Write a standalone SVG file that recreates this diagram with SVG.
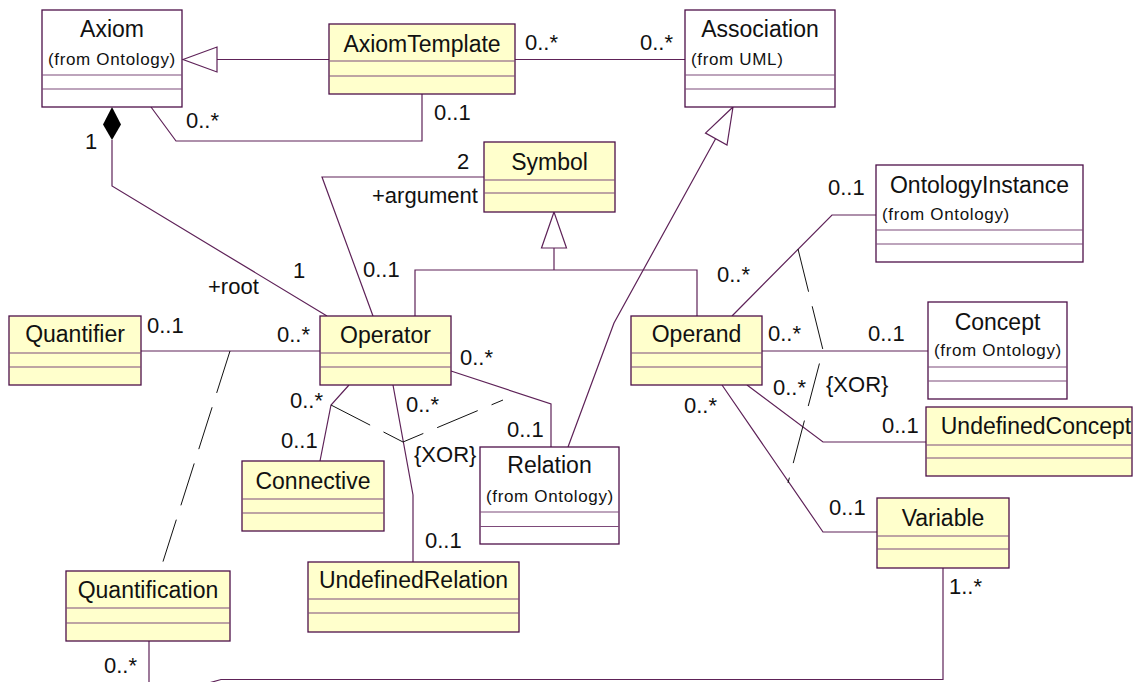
<svg xmlns="http://www.w3.org/2000/svg" width="1133" height="682" viewBox="0 0 1133 682">
<style>
.box{fill:#ffffff;stroke:#4d1049;stroke-width:1.3}
.yel{fill:#ffffcc}
.sep{stroke:#7d4a7a;stroke-width:1.2}
.ln{fill:none;stroke:#5e2258;stroke-width:1.2}
.dash{fill:none;stroke:#111111;stroke-width:1;stroke-dasharray:44 15}
.tri{fill:#ffffff;stroke:#5e2258;stroke-width:1.2}
text{font-family:"Liberation Sans",Arial,sans-serif;fill:#111111}
.name{font-size:23px;text-anchor:middle}
.from{font-size:17px;letter-spacing:0.65px}
.lbl{font-size:22px}
</style>
<rect width="1133" height="682" fill="#ffffff"/>
<g id="connectors">
  <line class="ln" x1="217" y1="59.5" x2="329" y2="59.5"/>
  <polygon class="tri" points="183,59.5 217,47 217,72"/>
  <line class="ln" x1="515" y1="59.5" x2="685" y2="59.5"/>
  <polyline class="ln" points="151,107 176,141 422,141 422,94"/>
  <polyline class="ln" points="112,140 112,186 327,316"/>
  <polygon points="112,107 121,124.5 112,140 103,124.5" fill="#000000"/>
  <polyline class="ln" points="373,316 322,177 484,177"/>
  <polyline class="ln" points="415,316 415,270 697,270 697,316"/>
  <line class="ln" x1="554" y1="270" x2="554" y2="248"/>
  <polygon class="tri" points="554,212 541.5,248 566.5,248"/>
  <polyline class="ln" points="568,447 614,323 716,138"/>
  <polygon class="tri" points="733,107 727,145 705.5,133"/>
  <line class="ln" x1="141" y1="351" x2="320" y2="351"/>
  <line class="dash" x1="230" y1="351" x2="160" y2="571"/>
  <path class="ln" d="M149,641 V700 L221,679.5 H943 V568"/>
  <polyline class="ln" points="451,371 551,404 551,447"/>
  <polyline class="ln" points="349,385 331,405 320,461"/>
  <polyline class="ln" points="393,385 413,495 413,562"/>
  <polyline class="dash" points="331,405 403,442 503,400"/>
  <polyline class="ln" points="732,316 832,215 876,215"/>
  <line class="ln" x1="762" y1="351" x2="928" y2="351"/>
  <polyline class="ln" points="747,385 823,442 926,442"/>
  <polyline class="ln" points="722,385 823,532 877,532"/>
  <polyline class="dash" points="798,249 823,350 788,483"/>
  <g class="lbl">
    <text x="525" y="50">0..*</text>
    <text x="640" y="50">0..*</text>
    <text x="186" y="128">0..*</text>
    <text x="434" y="120">0..1</text>
    <text x="85" y="149">1</text>
    <text x="208" y="294">+root</text>
    <text x="293" y="278">1</text>
    <text x="457" y="169">2</text>
    <text x="372" y="203">+argument</text>
    <text x="363" y="277">0..1</text>
    <text x="147" y="333">0..1</text>
    <text x="277" y="342">0..*</text>
    <text x="460" y="365">0..*</text>
    <text x="507" y="437">0..1</text>
    <text x="290" y="408">0..*</text>
    <text x="281" y="448">0..1</text>
    <text x="406" y="412">0..*</text>
    <text x="425" y="548">0..1</text>
    <text x="414" y="462">{XOR}</text>
    <text x="828" y="195">0..1</text>
    <text x="717" y="282">0..*</text>
    <text x="768" y="341">0..*</text>
    <text x="868" y="341">0..1</text>
    <text x="773" y="395">0..*</text>
    <text x="882" y="433">0..1</text>
    <text x="684" y="413">0..*</text>
    <text x="829" y="515">0..1</text>
    <text x="826" y="392">{XOR}</text>
    <text x="104" y="673">0..*</text>
    <text x="949" y="594">1..*</text>
  </g>
</g>
<g id="Axiom">
  <rect class="box" x="42" y="10" width="140" height="97"/>
  <line class="sep" x1="42" y1="75" x2="182" y2="75"/><line class="sep" x1="42" y1="89" x2="182" y2="89"/>
  <text class="name" x="112" y="37">Axiom</text>
  <text class="from" x="48" y="65">(from Ontology)</text>
</g>
<g id="AxiomTemplate">
  <rect class="box yel" x="329" y="24" width="186" height="70"/>
  <line class="sep" x1="329" y1="61" x2="515" y2="61"/><line class="sep" x1="329" y1="76" x2="515" y2="76"/>
  <text class="name" x="422" y="52">AxiomTemplate</text>
</g>
<g id="Association">
  <rect class="box" x="685" y="10" width="150" height="97"/>
  <line class="sep" x1="685" y1="75" x2="835" y2="75"/><line class="sep" x1="685" y1="89" x2="835" y2="89"/>
  <text class="name" x="760" y="37">Association</text>
  <text class="from" x="691" y="65">(from UML)</text>
</g>
<g id="Symbol">
  <rect class="box yel" x="484" y="142" width="131" height="70"/>
  <line class="sep" x1="484" y1="180" x2="615" y2="180"/><line class="sep" x1="484" y1="193" x2="615" y2="193"/>
  <text class="name" x="549.5" y="170">Symbol</text>
</g>
<g id="OntologyInstance">
  <rect class="box" x="876" y="165" width="207" height="97"/>
  <line class="sep" x1="876" y1="230" x2="1083" y2="230"/><line class="sep" x1="876" y1="244" x2="1083" y2="244"/>
  <text class="name" x="979.5" y="193">OntologyInstance</text>
  <text class="from" x="882" y="220">(from Ontology)</text>
</g>
<g id="Quantifier">
  <rect class="box yel" x="9" y="316" width="132" height="69"/>
  <line class="sep" x1="9" y1="353" x2="141" y2="353"/><line class="sep" x1="9" y1="367" x2="141" y2="367"/>
  <text class="name" x="75" y="342">Quantifier</text>
</g>
<g id="Operator">
  <rect class="box yel" x="320" y="316" width="131" height="69"/>
  <line class="sep" x1="320" y1="353" x2="451" y2="353"/><line class="sep" x1="320" y1="367" x2="451" y2="367"/>
  <text class="name" x="385.5" y="343">Operator</text>
</g>
<g id="Operand">
  <rect class="box yel" x="631" y="316" width="131" height="69"/>
  <line class="sep" x1="631" y1="353" x2="762" y2="353"/><line class="sep" x1="631" y1="367" x2="762" y2="367"/>
  <text class="name" x="696.5" y="342">Operand</text>
</g>
<g id="Concept">
  <rect class="box" x="928" y="302" width="139" height="97"/>
  <line class="sep" x1="928" y1="367" x2="1067" y2="367"/><line class="sep" x1="928" y1="381" x2="1067" y2="381"/>
  <text class="name" x="997.5" y="330">Concept</text>
  <text class="from" x="934" y="356">(from Ontology)</text>
</g>
<g id="UndefinedConcept">
  <rect class="box yel" x="926" y="407" width="206" height="69"/>
  <line class="sep" x1="926" y1="445" x2="1132" y2="445"/><line class="sep" x1="926" y1="458" x2="1132" y2="458"/>
  <text class="name" x="1036" y="434">UndefinedConcept</text>
</g>
<g id="Relation">
  <rect class="box" x="480" y="447" width="139" height="97"/>
  <line class="sep" x1="480" y1="512" x2="619" y2="512"/><line class="sep" x1="480" y1="526.5" x2="619" y2="526.5"/>
  <text class="name" x="549.5" y="473">Relation</text>
  <text class="from" x="486" y="502">(from Ontology)</text>
</g>
<g id="Connective">
  <rect class="box yel" x="242" y="461" width="142" height="70"/>
  <line class="sep" x1="242" y1="499" x2="384" y2="499"/><line class="sep" x1="242" y1="513" x2="384" y2="513"/>
  <text class="name" x="313" y="489">Connective</text>
</g>
<g id="Variable">
  <rect class="box yel" x="877" y="498" width="132" height="70"/>
  <line class="sep" x1="877" y1="536" x2="1009" y2="536"/><line class="sep" x1="877" y1="549" x2="1009" y2="549"/>
  <text class="name" x="943" y="526">Variable</text>
</g>
<g id="UndefinedRelation">
  <rect class="box yel" x="308" y="562" width="211" height="70"/>
  <line class="sep" x1="308" y1="599" x2="519" y2="599"/><line class="sep" x1="308" y1="613" x2="519" y2="613"/>
  <text class="name" x="413.5" y="588">UndefinedRelation</text>
</g>
<g id="Quantification">
  <rect class="box yel" x="66" y="571" width="164" height="70"/>
  <line class="sep" x1="66" y1="608" x2="230" y2="608"/><line class="sep" x1="66" y1="623" x2="230" y2="623"/>
  <text class="name" x="148" y="598">Quantification</text>
</g>
</svg>
